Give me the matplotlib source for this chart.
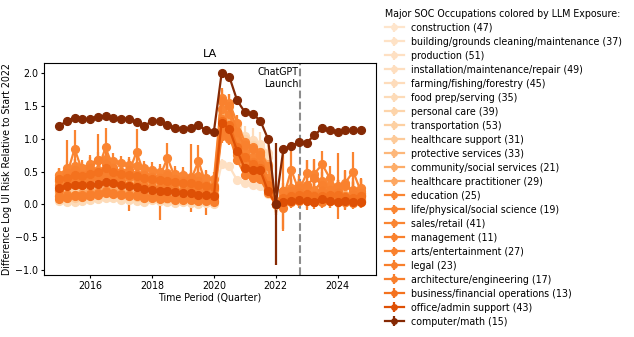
import matplotlib
matplotlib.use("Agg")
import matplotlib.pyplot as plt
import numpy as np

plt.rcParams['font.family'] = ['DejaVu Sans']
plt.rcParams['font.size'] = 6.85
plt.rcParams['xtick.major.size'] = 2.4
plt.rcParams['ytick.major.size'] = 2.4
plt.rcParams['xtick.major.pad'] = 1.6
plt.rcParams['ytick.major.pad'] = 1.6
plt.rcParams['axes.linewidth'] = 0.8

# Quarters 2015Q1 .. 2024Q4 (fractional years)
quarters = [2015 + i * 0.25 for i in range(40)]

occupations = [
    "construction (47)", "building/grounds cleaning/maintenance (37)", "production (51)",
    "installation/maintenance/repair (49)", "farming/fishing/forestry (45)", "food prep/serving (35)",
    "personal care (39)", "transportation (53)", "healthcare support (31)", "protective services (33)",
    "community/social services (21)", "healthcare practitioner (29)", "education (25)",
    "life/physical/social science (19)", "sales/retail (41)", "management (11)",
    "arts/entertainment (27)", "legal (23)", "architecture/engineering (17)",
    "business/financial operations (13)", "office/admin support (43)", "computer/math (15)",
]

# LLM exposure score (position in the Oranges colormap)
exposure = [0.13, 0.15, 0.16, 0.17, 0.18, 0.19, 0.23, 0.25, 0.27, 0.34, 0.38, 0.40,
            0.53, 0.53, 0.53, 0.54, 0.54, 0.55, 0.55, 0.59, 0.72, 0.98]

construction = [0.09,0.07,0.06,0.08,0.10,0.11,0.13,0.12,0.10,0.09,
                0.08,0.07,0.09,0.07,0.06,0.05,0.06,0.05,0.04,0.05,
                0.03,1.38,1.32,1.08,0.97,0.92,0.86,0.58,0.00,0.06,
                0.08,0.11,0.13,0.07,0.05,0.09,0.11,0.06,0.04,0.08]
building = [0.20,0.17,0.15,0.18,0.21,0.22,0.25,0.23,0.20,0.19,
            0.18,0.16,0.17,0.15,0.14,0.12,0.13,0.12,0.11,0.12,
            0.10,1.25,1.20,0.98,0.88,0.84,0.80,0.62,0.00,0.08,
            0.10,0.12,0.15,0.10,0.08,0.11,0.13,0.09,0.07,0.10]
production = [0.14,0.12,0.10,0.12,0.15,0.16,0.18,0.17,0.15,0.14,
              0.12,0.11,0.13,0.11,0.10,0.09,0.10,0.09,0.08,0.09,
              0.07,0.62,0.58,0.37,0.33,0.30,0.28,0.16,0.00,0.04,
              0.06,0.07,0.09,0.05,0.04,0.06,0.08,0.04,0.03,0.05]
installation = [0.30,0.27,0.26,0.28,0.31,0.33,0.36,0.34,0.31,0.30,
                0.28,0.26,0.27,0.25,0.23,0.22,0.23,0.21,0.20,0.21,
                0.18,1.30,1.22,1.02,0.98,0.95,0.88,0.72,0.00,0.10,
                0.12,0.14,0.17,0.12,0.10,0.13,0.15,0.11,0.09,0.12]
farming = [0.38,0.35,0.40,0.36,0.42,0.44,0.47,0.43,0.40,0.38,
           0.36,0.33,0.35,0.33,0.31,0.29,0.30,0.28,0.27,0.26,
           0.24,1.45,1.40,1.15,1.02,0.98,0.92,0.78,0.00,0.14,
           0.18,0.20,0.22,0.16,0.15,0.18,0.20,0.14,0.13,0.16]
food_prep = [0.05,0.04,0.03,0.05,0.06,0.08,0.10,0.09,0.07,0.06,
             0.05,0.04,0.06,0.05,0.03,0.02,0.03,0.02,0.01,0.02,
             0.00,1.55,1.48,1.18,1.05,0.92,0.75,0.50,0.00,0.03,
             0.05,0.06,0.08,0.04,0.03,0.05,0.06,0.03,0.02,0.04]
personal_care = [0.22,0.19,0.18,0.21,0.24,0.26,0.28,0.26,0.24,0.22,
                 0.21,0.19,0.20,0.18,0.17,0.15,0.16,0.15,0.13,0.14,
                 0.12,1.60,1.52,1.22,1.00,0.90,0.78,0.55,0.00,0.07,
                 0.09,0.11,0.13,0.08,0.07,0.10,0.12,0.08,0.06,0.09]
transportation = [0.27,0.25,0.23,0.26,0.29,0.30,0.33,0.31,0.29,0.27,
                  0.26,0.24,0.25,0.23,0.22,0.20,0.21,0.19,0.18,0.19,
                  0.16,1.42,1.35,1.10,0.92,0.85,0.78,0.60,0.00,0.09,
                  0.11,0.13,0.15,0.10,0.09,0.12,0.14,0.10,0.08,0.11]
healthcare_support = [0.12,0.10,0.09,0.11,0.13,0.15,0.17,0.16,0.14,0.12,
                      0.11,0.10,0.11,0.10,0.08,0.07,0.08,0.07,0.06,0.07,
                      0.05,1.20,1.12,0.85,0.70,0.62,0.55,0.35,0.00,0.05,
                      0.07,0.08,0.10,0.06,0.05,0.07,0.09,0.05,0.04,0.06]
protective = [0.35,0.32,0.30,0.34,0.37,0.38,0.42,0.39,0.36,0.35,
              0.33,0.31,0.32,0.30,0.28,0.26,0.27,0.25,0.24,0.25,
              0.22,1.10,1.05,0.88,0.80,0.75,0.70,0.52,0.00,0.12,
              0.15,0.17,0.19,0.13,0.12,0.15,0.17,0.12,0.11,0.14]
community = [0.45,0.42,0.40,0.43,0.47,0.49,0.52,0.49,0.46,0.45,
             0.43,0.40,0.41,0.38,0.37,0.35,0.36,0.33,0.32,0.33,
             0.30,1.35,1.28,1.05,0.90,0.85,0.80,0.62,0.00,0.15,
             0.18,0.20,0.23,0.16,0.15,0.18,0.20,0.15,0.14,0.17]
healthcare_pract = [0.18,0.16,0.15,0.17,0.20,0.21,0.24,0.22,0.19,0.18,
                    0.17,0.15,0.16,0.14,0.13,0.12,0.13,0.11,0.10,0.11,
                    0.09,1.15,1.10,0.90,0.80,0.78,0.72,0.55,0.00,0.06,
                    0.08,0.10,0.12,0.07,0.06,0.09,0.11,0.07,0.05,0.08]
education = [0.42,0.45,0.85,0.50,0.48,0.52,0.87,0.55,0.50,0.48,
             0.80,0.46,0.44,0.42,0.71,0.40,0.38,0.36,0.66,0.30,
             0.25,1.30,1.20,0.75,0.60,0.58,0.40,0.25,0.00,0.10,
             0.53,0.20,0.48,0.47,0.61,0.40,0.20,0.33,0.50,0.20]
life_science = [0.45,0.55,0.58,0.56,0.62,0.68,0.70,0.66,0.63,0.60,
                0.58,0.55,0.52,0.50,0.48,0.47,0.45,0.42,0.43,0.40,
                0.38,1.63,1.55,1.25,0.95,0.88,0.80,0.58,0.00,0.20,
                0.25,0.30,0.28,0.22,0.35,0.30,0.25,0.28,0.22,0.25]
sales = [0.35,0.38,0.42,0.40,0.44,0.46,0.50,0.47,0.44,0.42,
         0.40,0.38,0.36,0.35,0.33,0.32,0.31,0.30,0.28,0.26,
         0.24,1.45,1.38,1.02,0.80,0.72,0.65,0.40,0.00,0.12,
         0.15,0.18,0.20,0.15,0.14,0.17,0.18,0.13,0.12,0.15]
management = [0.12,0.14,0.15,0.14,0.16,0.18,0.20,0.18,0.16,0.15,
              0.14,0.13,0.12,0.11,0.10,0.10,0.09,0.08,0.08,0.06,
              0.05,1.05,1.00,0.80,0.55,0.50,0.45,0.22,0.00,0.03,
              0.05,0.06,0.07,0.04,0.05,0.06,0.05,0.04,0.03,0.05]
arts = [0.30,0.48,0.52,0.45,0.55,0.67,0.62,0.55,0.50,0.52,
        0.47,0.45,0.42,0.40,0.45,0.38,0.35,0.40,0.36,0.30,
        0.28,1.58,1.50,1.10,0.90,0.85,0.75,0.35,0.00,0.20,
        0.20,0.25,0.30,0.40,0.30,0.22,0.28,0.30,0.20,0.18]
legal = [0.22,0.30,0.35,0.30,0.38,0.40,0.45,0.38,0.35,0.30,
         0.30,0.28,0.27,0.25,0.30,0.22,0.20,0.25,0.20,0.18,
         0.15,1.20,1.15,0.85,0.70,0.65,0.60,0.28,0.00,-0.05,
         0.15,0.18,0.12,0.15,0.20,0.12,0.18,0.10,0.15,0.12]
architecture = [0.08,0.10,0.12,0.11,0.13,0.15,0.18,0.16,0.14,0.12,
                0.12,0.10,0.09,0.08,0.09,0.07,0.07,0.06,0.05,0.05,
                0.04,1.12,1.05,0.68,0.45,0.40,0.38,0.18,0.00,0.02,
                0.03,0.05,0.06,0.03,0.04,0.05,0.04,0.03,0.02,0.04]
business = [0.38,0.40,0.45,0.43,0.47,0.50,0.55,0.50,0.47,0.45,
            0.43,0.40,0.38,0.37,0.36,0.34,0.33,0.32,0.30,0.28,
            0.26,1.28,1.22,0.88,0.72,0.62,0.55,0.30,0.00,0.10,
            0.12,0.15,0.16,0.12,0.13,0.15,0.14,0.11,0.10,0.12]
office = [0.25,0.28,0.30,0.29,0.30,0.31,0.34,0.32,0.29,0.28,
          0.26,0.24,0.22,0.21,0.20,0.19,0.18,0.17,0.15,0.14,
          0.12,1.25,1.15,0.82,0.55,0.53,0.52,0.20,0.00,0.04,
          0.05,0.06,0.05,0.04,0.08,0.05,0.04,0.05,0.04,0.03]
computer = [1.19,1.28,1.32,1.30,1.31,1.34,1.35,1.32,1.31,1.31,
            1.26,1.19,1.28,1.27,1.22,1.16,1.15,1.17,1.21,1.13,
            1.11,2.00,1.95,1.59,1.41,1.38,1.28,1.00,0.00,0.85,
            0.89,0.95,0.94,1.06,1.16,1.13,1.10,1.13,1.14,1.13]

# error bar half-widths
err_construction = [0.04,0.05,0.04,0.05,0.06,0.05,0.06,0.05,0.04,0.05,
                    0.06,0.05,0.04,0.05,0.06,0.05,0.04,0.06,0.05,0.04,
                    0.05,0.08,0.07,0.06,0.06,0.07,0.06,0.05,0.05,0.06,
                    0.07,0.06,0.08,0.06,0.05,0.07,0.06,0.05,0.06,0.07]
err_building = [0.05,0.04,0.05,0.06,0.05,0.05,0.06,0.04,0.05,0.05,
                0.04,0.05,0.06,0.05,0.04,0.05,0.05,0.04,0.06,0.05,
                0.05,0.07,0.08,0.06,0.07,0.06,0.07,0.06,0.05,0.06,
                0.06,0.07,0.06,0.05,0.07,0.06,0.05,0.06,0.07,0.06]
err_production = [0.05,0.06,0.05,0.04,0.05,0.06,0.05,0.06,0.05,0.04,
                  0.05,0.06,0.05,0.05,0.04,0.06,0.05,0.05,0.04,0.05,
                  0.04,0.08,0.07,0.06,0.05,0.06,0.06,0.05,0.05,0.05,
                  0.06,0.05,0.06,0.05,0.06,0.05,0.05,0.06,0.05,0.06]
err_installation = [0.06,0.07,0.06,0.08,0.07,0.06,0.07,0.08,0.06,0.07,
                    0.07,0.06,0.08,0.07,0.06,0.07,0.06,0.08,0.07,0.06,
                    0.07,0.10,0.09,0.08,0.09,0.08,0.09,0.08,0.07,0.09,
                    0.10,0.08,0.09,0.10,0.08,0.09,0.10,0.08,0.09,0.10]
err_farming = [0.15,0.18,0.14,0.16,0.17,0.15,0.18,0.16,0.15,0.17,
               0.16,0.18,0.15,0.17,0.16,0.15,0.18,0.16,0.17,0.15,
               0.16,0.20,0.19,0.18,0.17,0.18,0.19,0.17,0.16,0.18,
               0.20,0.18,0.19,0.17,0.18,0.20,0.18,0.17,0.19,0.21]
err_food_prep = [0.03,0.04,0.03,0.04,0.03,0.04,0.04,0.03,0.04,0.03,
                 0.04,0.03,0.04,0.03,0.04,0.03,0.04,0.03,0.04,0.03,
                 0.03,0.06,0.05,0.05,0.04,0.05,0.04,0.04,0.04,0.04,
                 0.04,0.05,0.04,0.04,0.05,0.04,0.04,0.05,0.04,0.04]
err_personal_care = [0.06,0.07,0.06,0.07,0.08,0.06,0.07,0.06,0.07,0.06,
                     0.07,0.06,0.07,0.08,0.06,0.07,0.06,0.07,0.06,0.07,
                     0.06,0.10,0.09,0.08,0.08,0.09,0.08,0.07,0.07,0.08,
                     0.08,0.09,0.08,0.07,0.08,0.09,0.08,0.07,0.08,0.09]
err_transportation = [0.04,0.05,0.04,0.05,0.04,0.05,0.05,0.04,0.05,0.04,
                      0.05,0.04,0.05,0.04,0.05,0.04,0.05,0.04,0.05,0.04,
                      0.04,0.06,0.06,0.05,0.05,0.06,0.05,0.05,0.05,0.05,
                      0.05,0.06,0.05,0.05,0.06,0.05,0.05,0.06,0.05,0.05]
err_healthcare_support = [0.06,0.05,0.06,0.07,0.06,0.05,0.06,0.07,0.06,0.05,
                          0.06,0.07,0.06,0.05,0.06,0.07,0.06,0.05,0.06,0.07,
                          0.06,0.09,0.08,0.07,0.07,0.08,0.07,0.06,0.06,0.07,
                          0.08,0.07,0.08,0.07,0.06,0.08,0.07,0.08,0.07,0.08]
err_protective = [0.08,0.09,0.08,0.10,0.09,0.08,0.09,0.10,0.08,0.09,
                  0.09,0.08,0.10,0.09,0.08,0.09,0.10,0.08,0.09,0.08,
                  0.09,0.12,0.11,0.10,0.10,0.11,0.10,0.09,0.09,0.10,
                  0.11,0.10,0.11,0.10,0.09,0.11,0.10,0.11,0.10,0.11]
err_community = [0.10,0.12,0.11,0.10,0.12,0.11,0.13,0.11,0.10,0.12,
                 0.11,0.10,0.12,0.11,0.10,0.12,0.11,0.10,0.12,0.11,
                 0.11,0.14,0.13,0.12,0.12,0.13,0.12,0.11,0.11,0.12,
                 0.13,0.12,0.13,0.12,0.11,0.13,0.12,0.13,0.12,0.13]
err_healthcare_pract = [0.07,0.08,0.07,0.08,0.07,0.08,0.08,0.07,0.08,0.07,
                        0.08,0.07,0.08,0.07,0.08,0.07,0.08,0.07,0.08,0.07,
                        0.07,0.10,0.09,0.09,0.08,0.09,0.08,0.08,0.08,0.08,
                        0.09,0.08,0.09,0.08,0.09,0.08,0.09,0.08,0.09,0.08]
err_education = [0.12,0.15,0.28,0.14,0.15,0.16,0.30,0.15,0.14,0.15,
                 0.35,0.14,0.15,0.14,0.22,0.13,0.14,0.13,0.25,0.12,
                 0.12,0.18,0.17,0.15,0.14,0.15,0.14,0.13,0.12,0.15,
                 0.33,0.18,0.20,0.20,0.20,0.18,0.17,0.18,0.30,0.18]
err_life_science = [0.10,0.12,0.11,0.12,0.13,0.12,0.13,0.12,0.11,0.12,
                    0.12,0.11,0.12,0.11,0.12,0.11,0.12,0.11,0.12,0.11,
                    0.11,0.12,0.13,0.12,0.12,0.13,0.12,0.11,0.10,0.13,
                    0.14,0.13,0.14,0.13,0.14,0.13,0.12,0.13,0.14,0.13]
err_sales = [0.05,0.06,0.05,0.06,0.05,0.06,0.06,0.05,0.06,0.05,
             0.06,0.05,0.06,0.05,0.06,0.05,0.06,0.05,0.06,0.05,
             0.05,0.07,0.06,0.06,0.06,0.07,0.06,0.06,0.05,0.06,
             0.06,0.07,0.06,0.06,0.07,0.06,0.06,0.07,0.06,0.06]
err_management = [0.08,0.09,0.08,0.09,0.10,0.09,0.10,0.09,0.08,0.09,
                  0.10,0.09,0.10,0.35,0.09,0.10,0.09,0.10,0.09,0.10,
                  0.09,0.11,0.10,0.10,0.09,0.10,0.09,0.09,0.08,0.10,
                  0.10,0.11,0.10,0.11,0.10,0.11,0.10,0.11,0.10,0.11]
err_arts = [0.15,0.50,0.18,0.17,0.18,0.40,0.20,0.18,0.17,0.18,
            0.17,0.18,0.17,0.18,0.17,0.18,0.17,0.52,0.18,0.17,
            0.17,0.20,0.19,0.18,0.18,0.19,0.18,0.17,0.16,0.60,
            0.20,0.22,0.38,0.30,0.25,0.20,0.50,0.22,0.20,0.22]
err_legal = [0.14,0.16,0.15,0.16,0.17,0.16,0.17,0.16,0.15,0.40,
             0.16,0.15,0.16,0.15,0.16,0.15,0.16,0.15,0.16,0.35,
             0.15,0.18,0.17,0.16,0.16,0.17,0.16,0.15,0.14,0.33,
             0.18,0.20,0.18,0.19,0.20,0.18,0.19,0.18,0.19,0.18]
err_architecture = [0.06,0.07,0.06,0.07,0.06,0.07,0.07,0.06,0.07,0.06,
                    0.07,0.06,0.07,0.06,0.07,0.06,0.07,0.06,0.07,0.06,
                    0.06,0.08,0.07,0.07,0.07,0.08,0.07,0.07,0.06,0.07,
                    0.07,0.08,0.07,0.07,0.08,0.07,0.07,0.08,0.07,0.07]
err_business = [0.05,0.06,0.05,0.06,0.05,0.06,0.06,0.05,0.06,0.05,
                0.06,0.05,0.06,0.05,0.06,0.05,0.06,0.05,0.06,0.05,
                0.05,0.07,0.06,0.06,0.06,0.07,0.06,0.06,0.05,0.06,
                0.06,0.07,0.06,0.06,0.07,0.06,0.06,0.07,0.06,0.06]
err_office = [0.03,0.04,0.03,0.04,0.03,0.04,0.04,0.03,0.04,0.03,
              0.04,0.03,0.04,0.03,0.04,0.03,0.04,0.03,0.04,0.03,
              0.03,0.05,0.05,0.04,0.04,0.05,0.04,0.04,0.04,0.04,
              0.04,0.05,0.04,0.04,0.05,0.04,0.04,0.05,0.04,0.04]
err_computer = [0.03,0.03,0.03,0.03,0.03,0.03,0.03,0.03,0.03,0.03,
                0.03,0.03,0.03,0.03,0.03,0.04,0.05,0.03,0.03,0.03,
                0.03,0.03,0.04,0.07,0.04,0.03,0.03,0.04,0.93,0.03,
                0.03,0.03,0.03,0.03,0.03,0.03,0.03,0.03,0.03,0.03]

values = [construction, building, production, installation, farming, food_prep,
          personal_care, transportation, healthcare_support, protective, community,
          healthcare_pract, education, life_science, sales, management, arts, legal,
          architecture, business, office, computer]
errors = [err_construction, err_building, err_production, err_installation, err_farming,
          err_food_prep, err_personal_care, err_transportation, err_healthcare_support,
          err_protective, err_community, err_healthcare_pract, err_education,
          err_life_science, err_sales, err_management, err_arts, err_legal,
          err_architecture, err_business, err_office, err_computer]

chatgpt_launch = 2022.77

W, H, DPI = 634, 337, 100
fig = plt.figure(figsize=(W / DPI, H / DPI), dpi=DPI)
ax = fig.add_axes([44 / W, 1 - 275 / H, (376 - 44) / W, (275 - 63) / H])

cmap = plt.get_cmap('Oranges')
for name, vals, errs, ex in zip(occupations, values, errors, exposure):
    ax.errorbar(quarters, vals, yerr=errs, color=cmap(ex), marker='o',
                markersize=5.6, linewidth=1.6, elinewidth=1.6, capsize=0,
                label=name)

ax.axvline(chatgpt_launch, color='#8c8c8c', linestyle='--', linewidth=1.5)
ax.text(chatgpt_launch - 0.05, 1.93, "ChatGPT\nLaunch", ha='right', va='center',
        multialignment='right')

ax.set_xlim(2014.51, 2025.24)
ax.set_ylim(-1.08, 2.16)
ax.set_xticks([2016, 2018, 2020, 2022, 2024])
ax.set_yticks([-1.0, -0.5, 0.0, 0.5, 1.0, 1.5, 2.0])
ax.set_title("LA", pad=4)
ax.set_xlabel("Time Period (Quarter)", labelpad=1.5)
ax.set_ylabel("Difference Log UI Risk Relative to Start 2022")
ax.yaxis.set_label_coords(-0.097, 0.5)

leg = fig.legend(loc='upper left', bbox_to_anchor=(378 / W, 1 - 2 / H), frameon=False,
                 title="Major SOC Occupations colored by LLM Exposure:",
                 alignment='left', markerscale=0.7, labelspacing=0.42,
                 borderaxespad=0.3)

fig.savefig("out.png", dpi=DPI)
